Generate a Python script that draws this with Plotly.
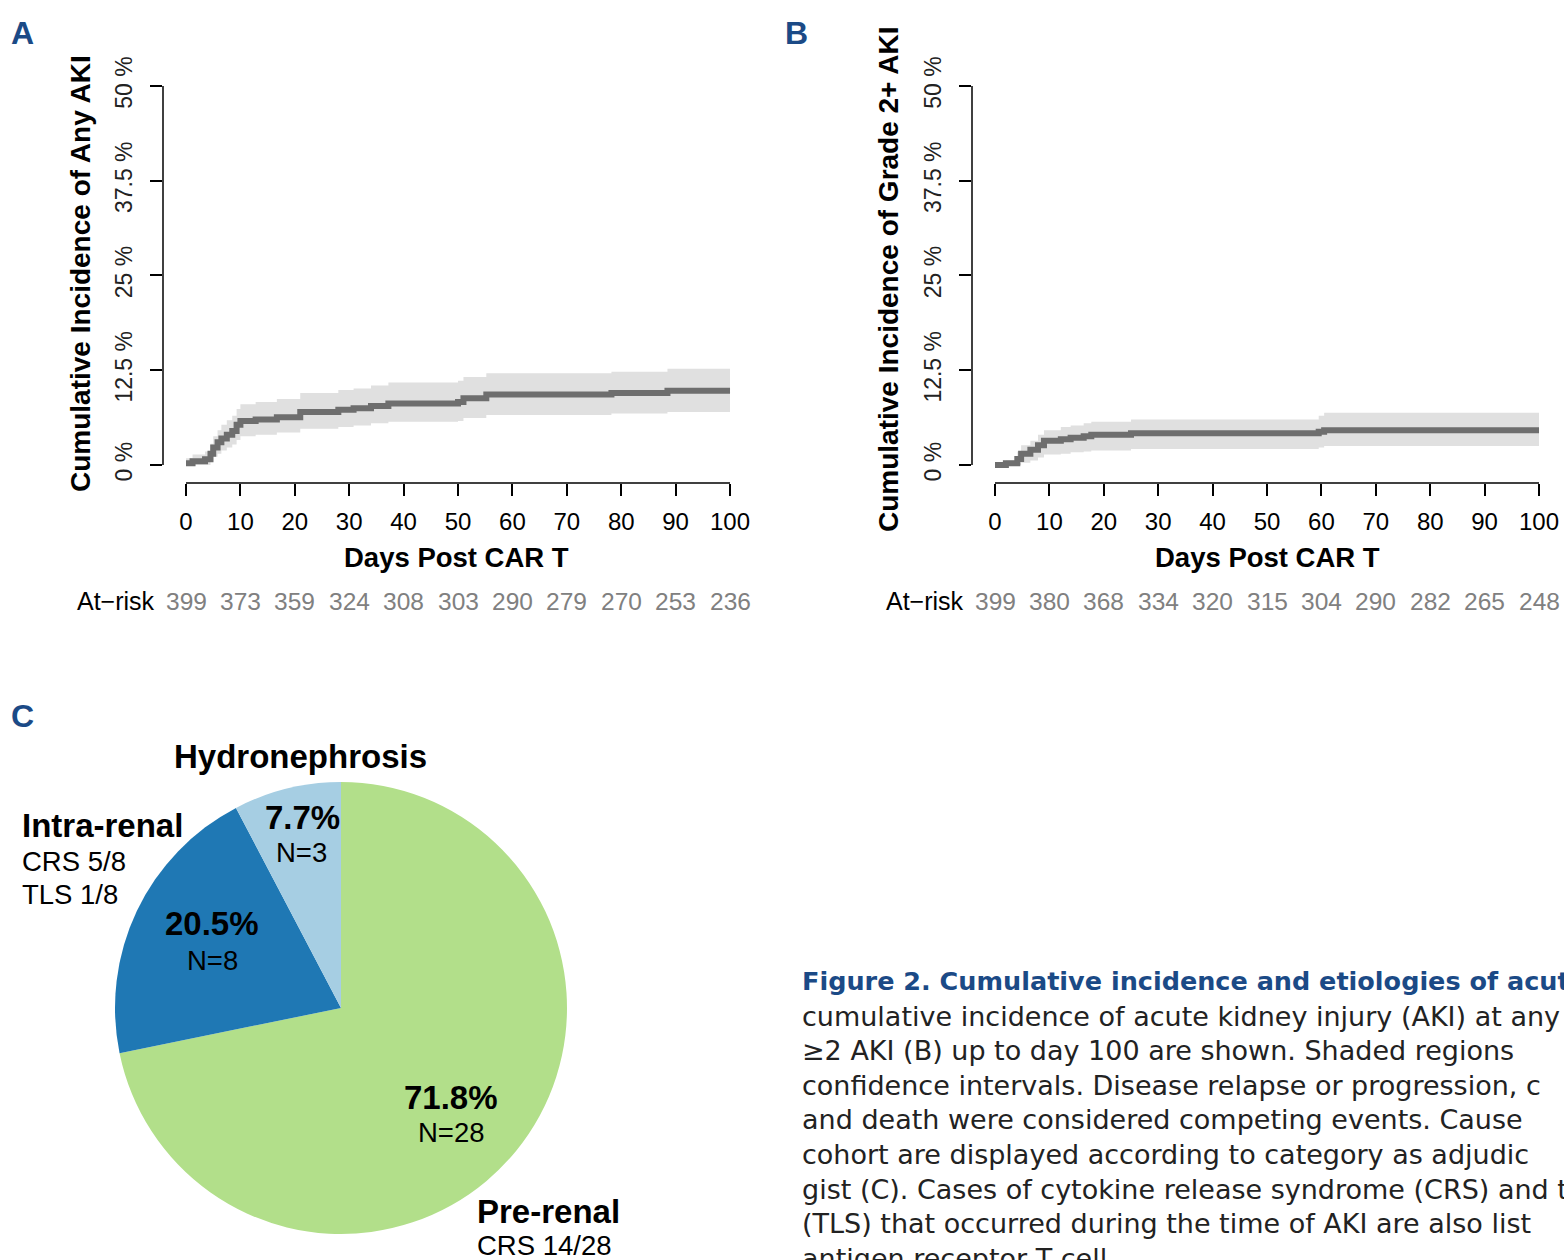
import plotly.graph_objects as go

W, H = 1564, 1260

def px(x):
    return x / W

def py(y):
    return 1 - y / H

# ---------------- data ----------------
# Panel A: cumulative incidence of any AKI (%)
a_days = [0, 1.2, 3.5, 4.5, 5.0, 5.8, 6.5, 7.5, 8.5, 9.3, 10.0, 12.8, 16.7, 21.0,
          28.0, 30.8, 34.0, 37.2, 50.0, 51.0, 55.2, 78.2, 88.5, 100]
a_est = [0.25, 0.5, 0.75, 1.5, 2.3, 3.0, 3.5, 4.0, 4.5, 5.3, 5.8, 6.0, 6.3, 7.0,
         7.3, 7.5, 7.8, 8.1, 8.3, 8.8, 9.3, 9.5, 9.8, 9.8]
a_upper = [0.9, 1.4, 1.8, 2.8, 3.8, 4.6, 5.3, 5.9, 6.5, 7.4, 8.0, 8.3, 8.7, 9.5,
           9.9, 10.1, 10.5, 10.9, 11.1, 11.6, 12.1, 12.3, 12.7, 12.7]
a_lower = [0.0, 0.0, 0.0, 0.5, 1.1, 1.5, 1.9, 2.3, 2.7, 3.3, 3.8, 4.0, 4.3, 4.8,
           5.0, 5.2, 5.5, 5.7, 5.8, 6.2, 6.6, 6.8, 7.0, 7.0]

# Panel B: cumulative incidence of grade 2+ AKI (%)
b_days = [0, 2.0, 4.1, 4.8, 6.5, 7.9, 9.0, 12.1, 13.9, 16.3, 17.7, 25.0, 59.5, 60.5, 100]
b_est = [0.0, 0.25, 0.8, 1.5, 2.0, 2.6, 3.2, 3.4, 3.6, 3.8, 4.0, 4.2, 4.4, 4.6, 4.6]
b_upper = [0.0, 0.6, 1.8, 2.6, 3.2, 4.0, 4.6, 5.0, 5.2, 5.5, 5.7, 6.0, 6.5, 6.9, 6.9]
b_lower = [0.0, 0.0, 0.0, 0.3, 0.6, 1.0, 1.4, 1.5, 1.7, 1.8, 1.9, 2.1, 2.3, 2.5, 2.5]

x_ticks = [0, 10, 20, 30, 40, 50, 60, 70, 80, 90, 100]
y_ticks = [0, 12.5, 25, 37.5, 50]
y_tick_labels = ["0 %", "12.5 %", "25 %", "37.5 %", "50 %"]
a_at_risk = [399, 373, 359, 324, 308, 303, 290, 279, 270, 253, 236]
b_at_risk = [399, 380, 368, 334, 320, 315, 304, 290, 282, 265, 248]

# Panel C: etiologies
pie_labels = ["Pre-renal", "Intra-renal", "Hydronephrosis"]
pie_values = [28, 8, 3]
pie_colors = ["#b2df8a", "#1f78b4", "#a6cee3"]

caption_lines = [
    "cumulative incidence of acute kidney injury (AKI) at any",
    "\u22652 AKI (B) up to day 100 are shown. Shaded regions",
    "confidence intervals. Disease relapse or progression, c",
    "and death were considered competing events. Cause",
    "cohort are displayed according to category as adjudic",
    "gist (C). Cases of cytokine release syndrome (CRS) and t",
    "(TLS) that occurred during the time of AKI are also list",
    "antigen receptor T cell.",
]
caption_title = "Figure 2. Cumulative incidence and etiologies of acut"

# ---------------- figure ----------------
LINE = "#6e6e6e"
BAND = "#e0e0e0"
FONT = "Liberation Sans"
BLUE = "#1b4a86"

fig = go.Figure()

for (days, est, up, lo, xa, ya) in [
    (a_days, a_est, a_upper, a_lower, "x", "y"),
    (b_days, b_est, b_upper, b_lower, "x2", "y2"),
]:
    fig.add_trace(go.Scatter(x=days, y=up, mode="lines", line=dict(width=0, shape="hv"),
                             xaxis=xa, yaxis=ya, showlegend=False, hoverinfo="skip"))
    fig.add_trace(go.Scatter(x=days, y=lo, mode="lines", line=dict(width=0, shape="hv"),
                             fill="tonexty", fillcolor=BAND,
                             xaxis=xa, yaxis=ya, showlegend=False, hoverinfo="skip"))
    fig.add_trace(go.Scatter(x=days, y=est, mode="lines",
                             line=dict(width=6, color=LINE, shape="hv"),
                             xaxis=xa, yaxis=ya, showlegend=False))

fig.add_trace(go.Pie(
    labels=pie_labels, values=pie_values, sort=False, direction="clockwise", rotation=0,
    marker=dict(colors=pie_colors, line=dict(width=0)), textinfo="none",
    showlegend=False,
    domain=dict(x=[px(115), px(567)], y=[py(1234), py(782)]),
))

xcommon = dict(range=[-4.23, 104.04], tickvals=x_ticks, ticks="outside", ticklen=12,
               tickwidth=1.5, tickcolor="black", showline=False, showgrid=False,
               zeroline=False, automargin=False, ticklabelstandoff=5,
               tickfont=dict(family=FONT, size=24, color="black"))
ycommon = dict(range=[-2.37, 52.1], tickvals=y_ticks, ticktext=y_tick_labels,
               ticks="outside", ticklen=12, tickwidth=1.5, tickcolor="black",
               showline=False, showgrid=False, zeroline=False, tickangle=-90,
               automargin=False, ticklabelstandoff=9,
               tickfont=dict(family=FONT, size=23, color="#222222"),
               domain=[py(483), py(70)])

fig.update_layout(
    width=W, height=H, margin=dict(l=0, r=0, t=0, b=0, pad=0, autoexpand=False),
    paper_bgcolor="white", plot_bgcolor="white", showlegend=False,
    xaxis=dict(domain=[px(163), px(752)], anchor="y", **xcommon),
    yaxis=dict(anchor="x", **ycommon),
    xaxis2=dict(domain=[px(972), px(1561)], anchor="y2", **xcommon),
    yaxis2=dict(anchor="x2", **ycommon),
)

shapes = []
ann = []

def text(t, x, y, size, color="black", family=FONT, xanchor="center", xref="paper",
         yref="paper", angle=0):
    ann.append(dict(text=t, x=x, y=y, xref=xref, yref=yref, xanchor=xanchor,
                    yanchor="middle", showarrow=False, textangle=angle,
                    font=dict(family=family, size=size, color=color)))

for xa, ya, ytitle, risk, xl, ytx, xtc, yline, ytc in [
    ("x", "y", "Cumulative Incidence of Any AKI", a_at_risk, 157, 80, 456, 163, 274),
    ("x2", "y2", "Cumulative Incidence of Grade 2+ AKI", b_at_risk, 966, 888, 1267, 972, 280),
]:
    shapes.append(dict(type="line", xref=xa, yref="paper", x0=x_ticks[0], x1=x_ticks[-1],
                       y0=py(483), y1=py(483), line=dict(color="black", width=1.5)))
    shapes.append(dict(type="line", xref="paper", yref=ya, x0=px(yline), x1=px(yline),
                       y0=y_ticks[0], y1=y_ticks[-1], line=dict(color="black", width=1.5)))
    text("<b>" + ytitle + "</b>", px(ytx), py(ytc), 28, angle=-90)
    text("<b>Days Post CAR T</b>", px(xtc), py(557), 27.5)
    text("At\u2212risk", px(xl), py(601), 25, xanchor="right")
    for t, r in zip(x_ticks, risk):
        text(str(r), t, py(601), 24.5, color="#808080", xref=xa)

for letter, lx, ly in [("A", 22, 33), ("B", 796, 33), ("C", 22, 716)]:
    text("<b>" + letter + "</b>", px(lx), py(ly), 32, color=BLUE)

pct = [v / sum(pie_values) * 100 for v in pie_values]
B, R = 33, 27.5
text("<b>%s</b>" % pie_labels[2], px(300), py(756), B)
text("<b>%.1f%%</b>" % pct[2], px(302), py(817), B)
text("N=%d" % pie_values[2], px(301), py(852), R)
text("<b>%s</b>" % pie_labels[1], px(20), py(825), B, xanchor="left")
text("CRS 5/8", px(20), py(861), R, xanchor="left")
text("TLS 1/8", px(20), py(894), R, xanchor="left")
text("<b>%.1f%%</b>" % pct[1], px(212), py(924), B)
text("N=%d" % pie_values[1], px(212), py(960), R)
text("<b>%.1f%%</b>" % pct[0], px(451), py(1097), B)
text("N=%d" % pie_values[0], px(451), py(1132), R)
text("<b>%s</b>" % pie_labels[0], px(475), py(1211), B, xanchor="left")
text("CRS 14/28", px(475), py(1245), R, xanchor="left")

CAP = "DejaVu Sans"
text("<b>" + caption_title + "</b>", px(800), py(981), 25.5, color=BLUE, family=CAP, xanchor="left")
for i, line in enumerate(caption_lines):
    text(line, px(800), py(1016 + i * 34.6), 27, color="#222222", family=CAP, xanchor="left")

fig.update_layout(shapes=shapes, annotations=ann)
fig.write_html("out.html")
